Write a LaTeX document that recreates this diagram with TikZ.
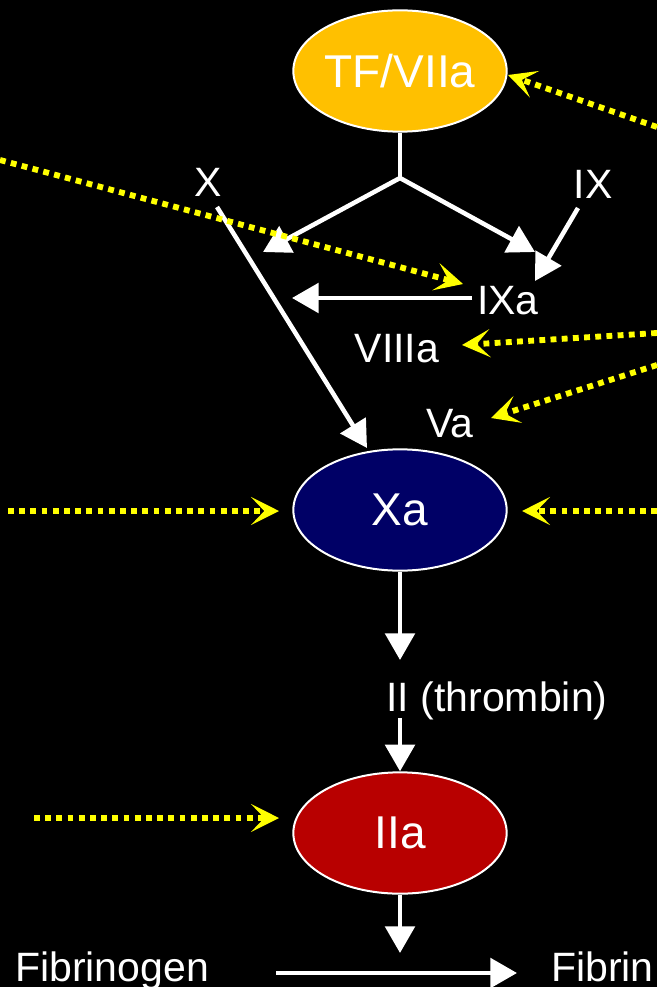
\documentclass[tikz,border=0pt]{standalone}
\usepackage{fontspec}
\setmainfont{Liberation Sans}
\usetikzlibrary{arrows.meta,shapes.geometric}
\definecolor{tfor}{RGB}{255,192,0}
\definecolor{xanavy}{RGB}{0,0,102}
\definecolor{iiared}{RGB}{184,0,0}
\definecolor{yel}{RGB}{255,255,0}
\begin{document}
\begin{tikzpicture}[x=0.75pt,y=-0.75pt,
  ell/.style={ellipse, draw=white, line width=1.5pt, minimum width=160pt, minimum height=91pt, inner sep=0pt, text=white, font=\fontsize{34.5}{40}\selectfont},
  lbl/.style={text=white, font=\fontsize{30.75}{36}\selectfont, inner sep=0pt, anchor=base},
  wa/.style={draw=white, line width=3.4pt, -{Triangle[length=20pt,width=22pt]}},
  wl/.style={draw=white, line width=3.4pt},
  ya/.style={draw=yel, line width=4.4pt, dash pattern=on 4.4pt off 4pt, -{Stealth[length=21pt,width=21pt,inset=10pt]}}]
\fill[black] (0,0) rectangle (657,987);
\useasboundingbox (0,0) rectangle (657,987);
% ellipses
\node[ell, fill=tfor] (tf) at (400,71) {TF/VIIa};
\node[ell, fill=xanavy] (xa) at (400,510) {Xa};
\node[ell, fill=iiared] (iia) at (400,833) {IIa};
% labels
\node[lbl] (x) at (208,197) {X};
\node[lbl] (ix) at (593,199) {IX};
\node[lbl] (ixa) at (508,314) {IXa};
\node[lbl] (viiia) at (397,362) {VIIIa};
\node[lbl] (va) at (450,437) {Va};
\node[lbl] (ii) at (497,711) {II (thrombin)};
\node[lbl, anchor=base west] (fbg) at (15,981) {Fibrinogen};
\node[lbl, anchor=base west] (fbn) at (551,981) {Fibrin};
% coordinates
\coordinate (br) at (400,178);
\coordinate (xt) at (263,252);
\coordinate (ixt) at (535,252);
\coordinate (ixs) at (578,208);
\coordinate (ixat) at (535,281);
\coordinate (ixas) at (472,298);
\coordinate (ixae) at (292,298);
\coordinate (xs) at (217,207);
\coordinate (xae) at (367,448);
\coordinate (iit) at (400,660);
\coordinate (iis) at (400,718);
\coordinate (fbt) at (400,953);
\coordinate (fgs) at (276,973);
\coordinate (fge) at (517,973);
% white connectors
\draw[wl] (tf.south) -- (br);
\draw[wa] (br) -- (xt);
\draw[wa] (br) -- (ixt);
\draw[wa] (ixs) -- (ixat);
\draw[wa] (ixas) -- (ixae);
\draw[wa] (xs) -- (xae);
\draw[wa] (xa.south) -- (iit);
\draw[wa] (iis) -- (iia.north);
\draw[wa] (iia.south) -- (fbt);
\draw[wa] (fgs) -- (fge);
% yellow dotted
\coordinate (y1s) at (657,127); \coordinate (y1e) at (508,75);
\coordinate (y2s) at (0,160);   \coordinate (y2e) at (463,284);
\coordinate (y3s) at (657,333); \coordinate (y3e) at (462,345);
\coordinate (y4s) at (657,365); \coordinate (y4e) at (491,418);
\coordinate (y5s) at (8,511);   \coordinate (y5e) at (279,511);
\coordinate (y6s) at (657,511); \coordinate (y6e) at (522,511);
\coordinate (y7s) at (34,818);  \coordinate (y7e) at (279,818);
\draw[ya] (y1s) -- (y1e);
\draw[ya] (y2s) -- (y2e);
\draw[ya] (y3s) -- (y3e);
\draw[ya] (y4s) -- (y4e);
\draw[ya] (y5s) -- (y5e);
\draw[ya] (y6s) -- (y6e);
\draw[ya] (y7s) -- (y7e);
\end{tikzpicture}
\end{document}
